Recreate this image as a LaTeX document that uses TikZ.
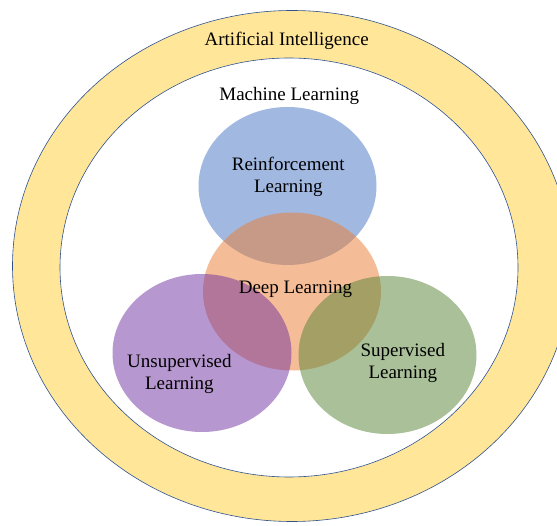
\documentclass[tikz,border=0pt]{standalone}
\usepackage{fontspec}
\setmainfont{Liberation Serif}
\definecolor{ringyellow}{RGB}{255,230,153}
\definecolor{ringline}{RGB}{47,82,143}
\definecolor{rlblue}{RGB}{68,114,196}
\definecolor{dlorange}{RGB}{237,125,49}
\definecolor{ulpurple}{RGB}{112,48,160}
\definecolor{slgreen}{RGB}{84,130,53}
\begin{document}
\begin{tikzpicture}[x=1pt,y=-1pt,
  ringedge/.style={draw=ringline,line width=0.6pt},
  blob/.style={fill opacity=0.5},
  lbl/.style={font=\fontsize{19}{22}\selectfont,text=black,align=center,inner sep=0pt}]
\useasboundingbox (0,0) rectangle (557,526);
\fill[white] (0,0) rectangle (557,526);
% AI ring
\path[ringedge,fill=ringyellow] (292,266) ellipse [x radius=279.5,y radius=255.5];
\path[ringedge,fill=white] (289,267.5) ellipse [x radius=229,y radius=209.5];
% sets
\fill[blob,rlblue] (287.5,186) ellipse [x radius=89,y radius=79];
\fill[blob,dlorange] (292,291.5) ellipse [x radius=89,y radius=79];
\fill[blob,ulpurple] (202,353) ellipse [x radius=89.5,y radius=79];
\fill[blob,slgreen] (387.5,355) ellipse [x radius=89,y radius=79];
% labels
\node[lbl] (ai) at (286.7,40.5) {Artificial Intelligence};
\node[lbl] (ml) at (289.3,95.5) {Machine Learning};
\node[lbl] (rl) at (288.3,176.5) {Reinforcement\\Learning};
\node[lbl] (dl) at (295.5,289.5) {Deep Learning};
\node[lbl] (ul) at (179.4,374) {Unsupervised\\Learning};
\node[lbl] (sl) at (402.8,363) {Supervised\\Learning};
\end{tikzpicture}
\end{document}
